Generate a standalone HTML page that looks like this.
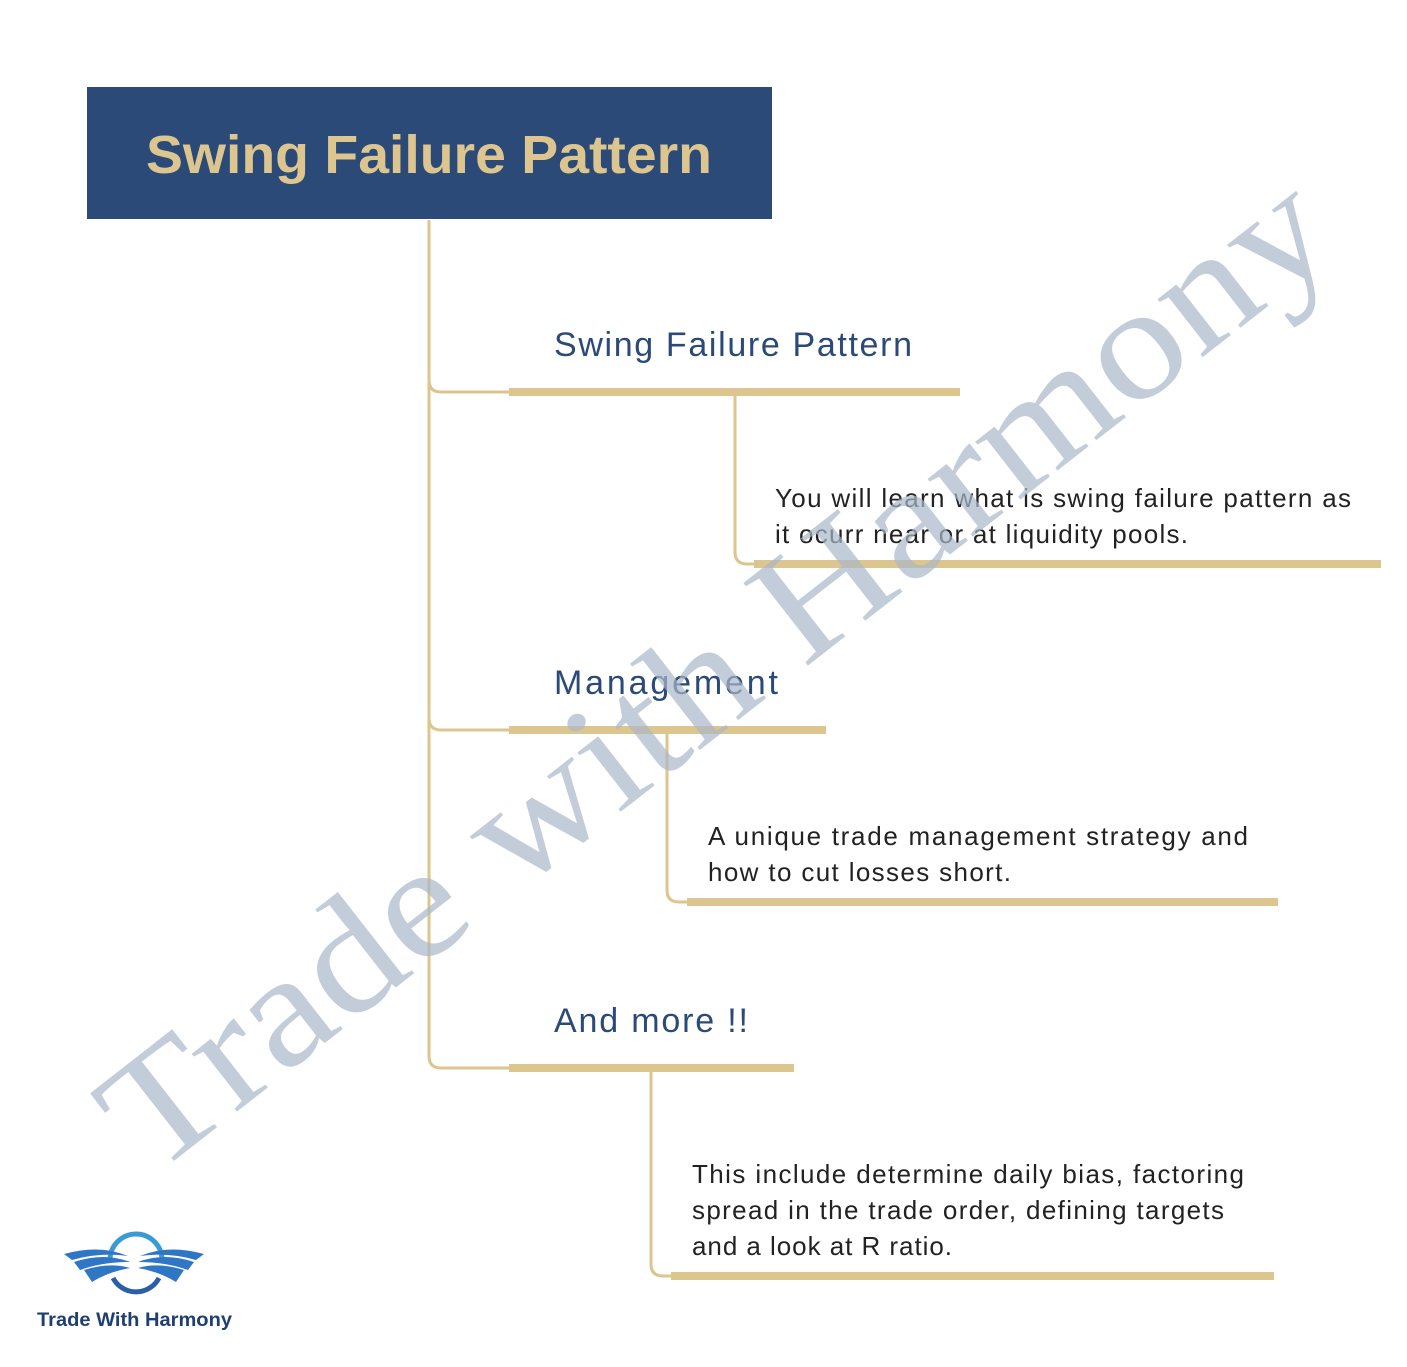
<!DOCTYPE html>
<html><head><meta charset="utf-8"><style>
html,body{margin:0;padding:0;background:#fff}
svg{display:block}
text{font-family:"Liberation Sans",sans-serif}
</style></head><body>
<svg width="1407" height="1367" viewBox="0 0 1407 1367" xmlns="http://www.w3.org/2000/svg">
<rect x="87" y="87" width="685" height="132" fill="#2b4a78"/>
<text x="146" y="173" font-size="54" font-weight="bold" fill="#dcc58e" textLength="566" lengthAdjust="spacingAndGlyphs">Swing Failure Pattern</text>
<g fill="none" stroke="#dcc58e" stroke-width="3">
<path d="M429 220 V1056 Q429 1068 441 1068 H510"/>
<path d="M429 380 Q429 392 441 392 H510"/>
<path d="M429 718 Q429 730 441 730 H510"/>
<path d="M735 395 V552 Q735 564 747 564 H756"/>
<path d="M667 733 V890 Q667 902 679 902 H688"/>
<path d="M651 1071 V1264 Q651 1276 663 1276 H672"/>
</g>
<g fill="#dcc58e">
<rect x="509" y="388" width="451" height="8"/>
<rect x="509" y="726" width="317" height="8"/>
<rect x="509" y="1064" width="285" height="8"/>
<rect x="754" y="560" width="627" height="8"/>
<rect x="687" y="898" width="591" height="8"/>
<rect x="671" y="1272" width="603" height="8"/>
</g>
<g fill="#2b4a78" font-size="34" lengthAdjust="spacingAndGlyphs">
<text x="554" y="356" textLength="358">Swing Failure Pattern</text>
<text x="554" y="694" textLength="224">Management</text>
<text x="554" y="1032" textLength="194">And more !!</text>
</g>
<g fill="#222" font-size="26">
<text x="775" y="507" textLength="576">You will learn what is swing failure pattern as</text>
<text x="775" y="543" textLength="413">it ocurr near or at liquidity pools.</text>
<text x="708" y="845" textLength="540">A unique trade management strategy and</text>
<text x="708" y="881" textLength="303">how to cut losses short.</text>
<text x="692" y="1183" textLength="552">This include determine daily bias, factoring</text>
<text x="692" y="1219" textLength="532">spread in the trade order, defining targets</text>
<text x="692" y="1255" textLength="260">and a look at R ratio.</text>
</g>
<text x="0" y="0" transform="translate(152,1178) rotate(-38)" font-size="160" fill="#a9b6c9" fill-opacity="0.7" textLength="1510" lengthAdjust="spacingAndGlyphs" style="font-family:'Liberation Serif',serif">Trade with Harmony</text>
<g>
<path d="M110 1260 A26 26 0 0 1 162 1260" fill="none" stroke="#3a9ad8" stroke-width="5"/>
<path d="M113 1278 A26 26 0 0 0 159 1278" fill="none" stroke="#2a5fa8" stroke-width="5"/>
<path d="M64 1254 Q100 1244 128 1256 Q100 1252 72 1260Z M74 1262 Q104 1252 130 1262 Q102 1262 80 1270Z M84 1270 Q110 1262 130 1268 Q108 1272 92 1282Z" fill="#2f76c4"/>
<path d="M204 1254 Q168 1244 140 1256 Q168 1252 196 1260Z M194 1262 Q164 1252 138 1262 Q166 1262 188 1270Z M184 1270 Q158 1262 138 1268 Q160 1272 176 1282Z" fill="#2f76c4"/>
<text x="37" y="1326" font-size="19" font-weight="bold" fill="#1f3f73" textLength="195" lengthAdjust="spacingAndGlyphs">Trade With Harmony</text>
</g>
</svg>
</body></html>
